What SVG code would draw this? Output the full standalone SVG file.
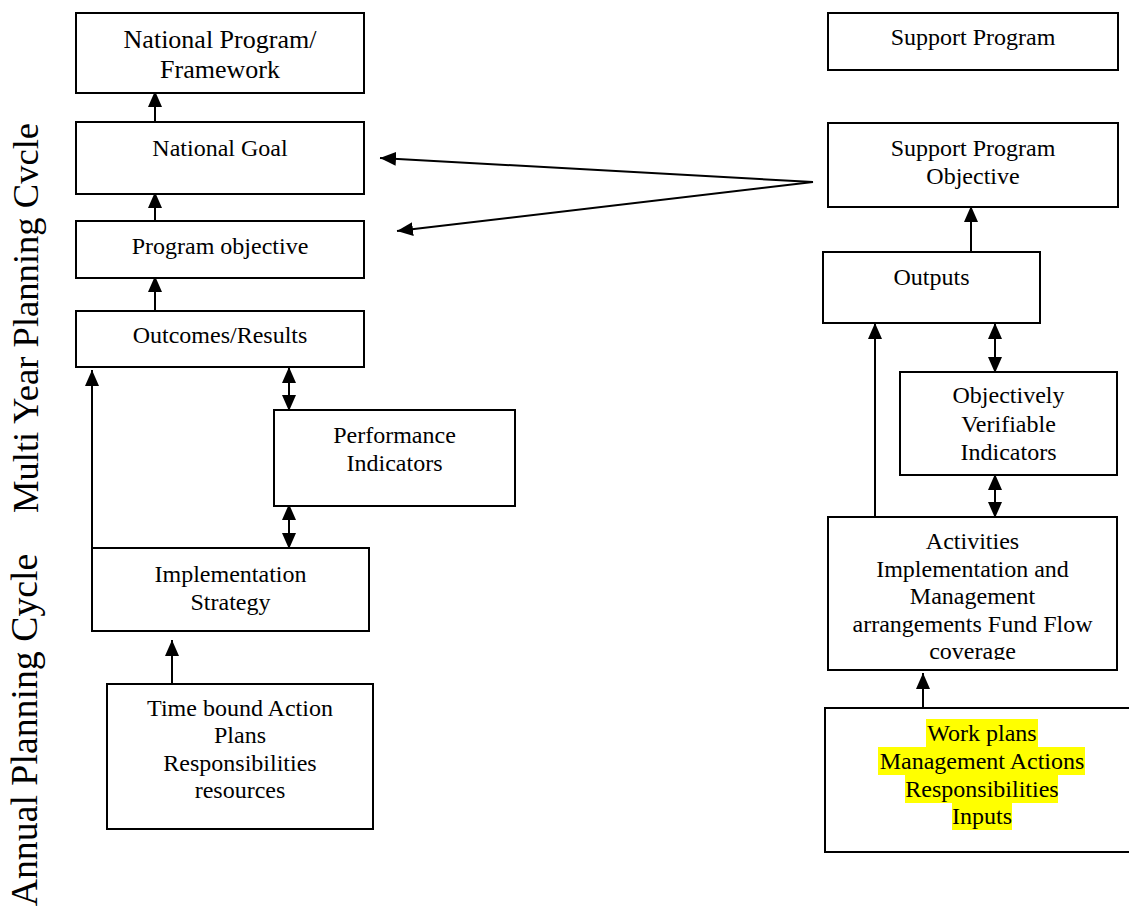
<svg xmlns="http://www.w3.org/2000/svg" width="1129" height="907" viewBox="0 0 1129 907">
  <style>
    .box { fill: #ffffff; stroke: #000000; stroke-width: 2; }
    .lbl { font-family: "Liberation Serif", "Times New Roman", serif; font-size: 24px; fill: #000000; text-anchor: middle; }
    .big { font-size: 26px; }
    .side { font-family: "Liberation Serif", "Times New Roman", serif; font-size: 36.6px; fill: #000000; text-anchor: middle; }
    .side-low { font-size: 37.8px; }
    .link { fill: none; stroke: #000000; stroke-width: 2; }
    .one { marker-end: url(#head); }
    .two { marker-start: url(#head); marker-end: url(#head); }
    .mark { fill: #ffff00; }
  </style>
  <defs>
    <marker id="head" markerUnits="userSpaceOnUse" viewBox="0 0 16 14" markerWidth="16" markerHeight="14" refX="16" refY="7" orient="auto-start-reverse">
      <path d="M0,0 L16,7 L0,14 z" fill="#000000"/>
    </marker>
    <!-- the last line of the activities box is cut off at the bottom -->
    <clipPath id="activ-clip">
      <rect x="828" y="517" width="289" height="143"/>
    </clipPath>
  </defs>
  <rect width="1129" height="907" fill="#ffffff"/>

  <!-- side captions -->
  <text class="side" transform="translate(38,318) rotate(-90)">Multi Year Planning Cvcle</text>
  <text class="side side-low" transform="translate(37,730) rotate(-90)">Annual Planning Cycle</text>

  <!-- connectors -->
  <g id="connectors">
    <line class="link one" x1="155" y1="122" x2="155" y2="91"/>
    <line class="link one" x1="155" y1="221" x2="155" y2="192"/>
    <line class="link one" x1="155" y1="311" x2="155" y2="276"/>
    <line class="link one" x1="92" y1="549" x2="92" y2="370"/>
    <line class="link two" x1="289" y1="367" x2="289" y2="411"/>
    <line class="link two" x1="289" y1="504" x2="289" y2="549"/>
    <line class="link one" x1="172" y1="685" x2="172" y2="640"/>
    <line class="link one" x1="813" y1="182" x2="380" y2="158"/>
    <line class="link one" x1="813" y1="182" x2="397" y2="231"/>
    <line class="link one" x1="971" y1="252" x2="971" y2="206"/>
    <line class="link one" x1="875" y1="517" x2="875" y2="323"/>
    <line class="link two" x1="995" y1="323" x2="995" y2="373"/>
    <line class="link two" x1="995" y1="474" x2="995" y2="518"/>
    <line class="link one" x1="923" y1="708" x2="923" y2="673"/>
  </g>

  <!-- left column -->
  <g id="national-program">
    <rect class="box" x="76" y="13" width="288" height="80"/>
    <text class="lbl big" x="220" y="48">National Program/</text>
    <text class="lbl big" x="220" y="78">Framework</text>
  </g>
  <g id="national-goal">
    <rect class="box" x="76" y="122" width="288" height="72"/>
    <text class="lbl" x="220" y="156">National Goal</text>
  </g>
  <g id="program-objective">
    <rect class="box" x="76" y="221" width="288" height="57"/>
    <text class="lbl" x="220" y="254">Program objective</text>
  </g>
  <g id="outcomes">
    <rect class="box" x="76" y="311" width="288" height="56"/>
    <text class="lbl" x="220" y="343">Outcomes/Results</text>
  </g>
  <g id="performance-indicators">
    <rect class="box" x="274" y="410" width="241" height="96"/>
    <text class="lbl" x="394.5" y="443">Performance</text>
    <text class="lbl" x="394.5" y="471">Indicators</text>
  </g>
  <g id="implementation-strategy">
    <rect class="box" x="92" y="548" width="277" height="83"/>
    <text class="lbl" x="230.5" y="582">Implementation</text>
    <text class="lbl" x="230.5" y="610">Strategy</text>
  </g>
  <g id="action-plans">
    <rect class="box" x="107" y="684" width="266" height="145"/>
    <text class="lbl" x="240" y="716">Time bound Action</text>
    <text class="lbl" x="240" y="743">Plans</text>
    <text class="lbl" x="240" y="771">Responsibilities</text>
    <text class="lbl" x="240" y="798">resources</text>
  </g>

  <!-- right column -->
  <g id="support-program">
    <rect class="box" x="828" y="13" width="290" height="57"/>
    <text class="lbl" x="973" y="45">Support Program</text>
  </g>
  <g id="support-objective">
    <rect class="box" x="828" y="123" width="290" height="84"/>
    <text class="lbl" x="973" y="156">Support Program</text>
    <text class="lbl" x="973" y="184">Objective</text>
  </g>
  <g id="outputs">
    <rect class="box" x="823" y="252" width="217" height="71"/>
    <text class="lbl" x="931.5" y="285">Outputs</text>
  </g>
  <g id="verifiable-indicators">
    <rect class="box" x="900" y="372" width="217" height="103"/>
    <text class="lbl" x="1008.5" y="403">Objectively</text>
    <text class="lbl" x="1008.5" y="432">Verifiable</text>
    <text class="lbl" x="1008.5" y="460">Indicators</text>
  </g>
  <g id="activities">
    <rect class="box" x="828" y="517" width="289" height="153"/>
    <g clip-path="url(#activ-clip)">
      <text class="lbl" x="972.5" y="549">Activities</text>
      <text class="lbl" x="972.5" y="577">Implementation and</text>
      <text class="lbl" x="972.5" y="604">Management</text>
      <text class="lbl" x="972.5" y="632">arrangements Fund Flow</text>
      <text class="lbl" x="972.5" y="659">coverage</text>
    </g>
  </g>
  <g id="work-plans">
    <rect class="box" x="825" y="708" width="315" height="144"/>
    <rect class="mark" x="926" y="719" width="112" height="28"/>
    <rect class="mark" x="878" y="747" width="207" height="28"/>
    <rect class="mark" x="905" y="775" width="153" height="28"/>
    <rect class="mark" x="952" y="803" width="60" height="27"/>
    <text class="lbl" x="982" y="741">Work plans</text>
    <text class="lbl" x="982" y="769">Management Actions</text>
    <text class="lbl" x="982" y="797">Responsibilities</text>
    <text class="lbl" x="982" y="824">Inputs</text>
  </g>
</svg>
